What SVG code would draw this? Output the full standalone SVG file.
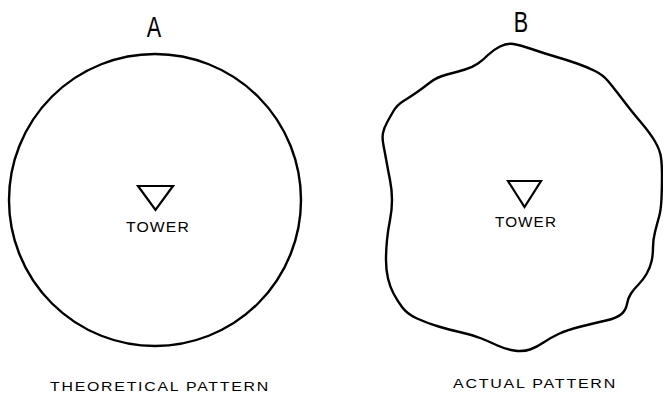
<svg xmlns="http://www.w3.org/2000/svg" width="663" height="394" viewBox="0 0 663 394">
<style>
.ln{fill:none;stroke:#000;stroke-width:2.4;stroke-linejoin:round}
.tri{fill:none;stroke:#000;stroke-width:2.2;stroke-linejoin:miter}
.t{font-family:"Liberation Sans",Arial,sans-serif;fill:#000}
.big{font-size:30px}
.sm{font-size:14px;letter-spacing:1px}
.cap{font-size:13.5px;letter-spacing:1.5px}
</style>
<rect width="663" height="394" fill="#fff"/>
<g id="patternA">
<text class="t big" transform="translate(154,37) scale(0.72,1)" text-anchor="middle">A</text>
<circle class="ln" cx="155" cy="200" r="146"/>
<polygon class="tri" points="138,186 173,186 155.5,210"/>
<text class="t sm" x="126" y="232" textLength="64" lengthAdjust="spacingAndGlyphs">TOWER</text>
<text class="t cap" x="50" y="391" textLength="220" lengthAdjust="spacingAndGlyphs">THEORETICAL PATTERN</text>
</g>
<g id="patternB">
<text class="t big" transform="translate(521,32) scale(0.72,1)" text-anchor="middle">B</text>
<path class="ln" d="M500,46.5 Q507,43 513.5,44 Q520,45 531.5,49 Q543,53 555,56.5 Q567,60 577,63.5 Q587,67 595,71 Q603,75 608,81 Q613,87 618,93.5 Q623,100 628,106.5 Q633,113 641.5,123 Q650,133 655,141.5 Q660,150 661,157.5 Q662,165 662,176 Q662,187 661.5,198.5 Q661,210 659,217 Q657,224 655,232 Q653,240 653,247.5 Q653,255 651.5,261.5 Q650,268 646.5,274 Q643,280 638.5,284.5 Q634,289 631,293.5 Q628,298 627,304 Q626,310 621.5,314 Q617,318 606,320.5 Q595,323 581,326.5 Q567,330 558.5,334 Q550,338 543.5,342.5 Q537,347 530,349.5 Q523,352 514,350.5 Q505,349 497.5,345.5 Q490,342 481.5,338.5 Q473,335 461.5,332.5 Q450,330 438.5,326.5 Q427,323 417,318.5 Q407,314 402,307 Q397,300 393.5,293.5 Q390,287 388,278.5 Q386,270 386,260 Q386,250 387,240 Q388,230 390,220 Q392,210 392,200 Q392,190 390,180 Q388,170 386.5,161.5 Q385,153 383.5,145.5 Q382,138 383,133 Q384,128 387,122.5 Q390,117 393.5,111 Q397,105 403.5,101 Q410,97 416.5,92.5 Q423,88 430,82.5 Q437,77 447,74.5 Q457,72 465,69.5 Q473,67 478,63.5 Q483,60 488,55 Q493,50 500,46.5 Z"/>
<polygon class="tri" points="508,181 541,181 524.5,207"/>
<text class="t sm" x="495" y="227" textLength="62" lengthAdjust="spacingAndGlyphs">TOWER</text>
<text class="t cap" x="453" y="388" textLength="164" lengthAdjust="spacingAndGlyphs">ACTUAL PATTERN</text>
</g>
</svg>
